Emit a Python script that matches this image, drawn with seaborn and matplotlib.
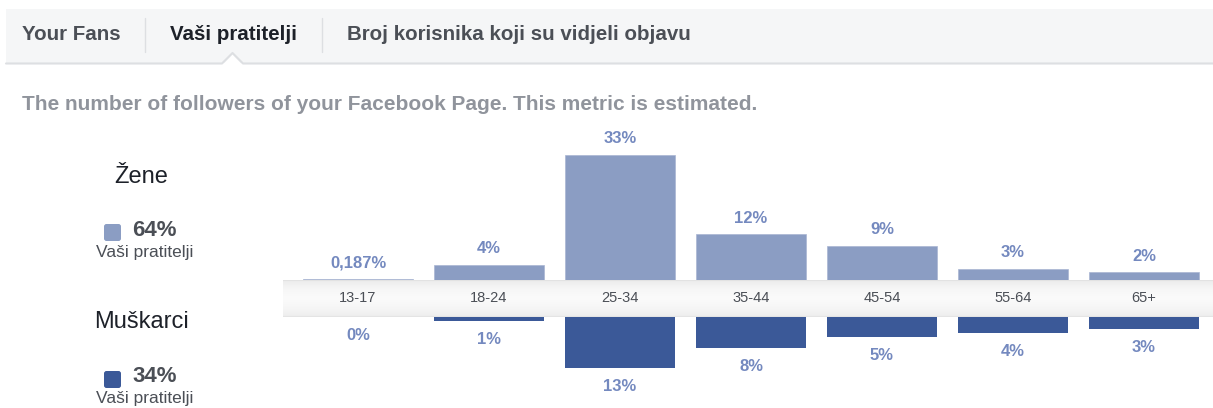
import numpy as np
import matplotlib.pyplot as plt
import seaborn as sns
from matplotlib.patches import Rectangle, Polygon, FancyBboxPatch
from matplotlib.colors import LinearSegmentedColormap

# data
ages = ["13-17", "18-24", "25-34", "35-44", "45-54", "55-64", "65+"]
women = [0.187, 4, 33, 12, 9, 3, 2]
men = [0, 1, 13, 8, 5, 4, 3]
women_total = 64
men_total = 34
tabs = ["Your Fans", "Vaši pratitelji", "Broj korisnika koji su vidjeli objavu"]
subtitle = "The number of followers of your Facebook Page. This metric is estimated."

c_women = "#8b9dc3"
c_men = "#3b5998"
c_label = "#7489bf"
c_dark = "#4b4f56"

sns.set_theme(style="white")
plt.rcParams["font.family"] = ["Liberation Sans", "DejaVu Sans"]

W, H = 1213, 408
fig = plt.figure(figsize=(W / 100, H / 100), dpi=100)

# background axes in pixel coordinates for the page chrome
bg = fig.add_axes([0, 0, 1, 1])
bg.set_xlim(0, W)
bg.set_ylim(H, 0)
bg.axis("off")

bg.add_patch(Rectangle((6, 9), W - 6, 54, fc="#f5f6f7", ec="none"))
bg.plot([6, 222, 232.5, 243, W], [63.5, 63.5, 53, 63.5, 63.5], color="#dddfe2", lw=1.5)
bg.add_patch(Polygon([[223, 64.5], [232.5, 54.5], [242, 64.5]], fc="white", ec="none"))
for xs in (145, 322):
    bg.plot([xs, xs], [18, 52], color="#dddfe2", lw=1)

tab_x = [22, 170, 347]
for i, t in enumerate(tabs):
    bg.text(tab_x[i], 35, t, fontsize=14.8, fontweight="bold",
            color="#1d2129" if i == 1 else c_dark, va="center", ha="left")

bg.text(22, 104, subtitle, fontsize=15, fontweight="bold", color="#90949c",
        va="center", ha="left")

# left legend
legend = [("Žene", women_total, c_women, 177, 233), ("Muškarci", men_total, c_men, 322, 380)]
for name, total, col, y_name, y_sq in legend:
    bg.text(141, y_name, name, fontsize=17, color="#1d2129", ha="center", va="center")
    bg.add_patch(FancyBboxPatch((104, y_sq - 9), 17, 17,
                                boxstyle="round,pad=0,rounding_size=2.5", fc=col, ec="none"))
    bg.text(132, y_sq - 3, f"{total}%", fontsize=16, fontweight="bold", color=c_dark,
            ha="left", va="center")
    bg.text(145, y_sq + 19, "Vaši pratitelji", fontsize=12.5, color=c_dark,
            ha="center", va="center")

# chart axes
x0, x1 = 283, W
xlim = (-0.573, 6.527)


def frac(top, bottom):
    return [x0 / W, 1 - bottom / H, (x1 - x0) / W, (bottom - top) / H]


ax_top = fig.add_axes(frac(110, 280))
ax_band = fig.add_axes(frac(280, 317))
ax_bot = fig.add_axes(frac(317, 408))

sns.barplot(x=ages, y=women, ax=ax_top, color=c_women, saturation=1, width=0.84,
            edgecolor="#a9b6d3", linewidth=0.5)
sns.barplot(x=ages, y=men, ax=ax_bot, color=c_men, saturation=1, width=0.84, linewidth=0)

ax_top.set_ylim(0, 170 / 3.8)
ax_bot.set_ylim(91 / 3.9, 0)


def fmt(v):
    return f"{v:g}%".replace(".", ",")


# value labels, women above their bars, men below theirs
for ax, vals, dy, va in ((ax_top, women, 6, "bottom"), (ax_bot, men, -8, "top")):
    for rect, v in zip(ax.containers[0], vals):
        ax.annotate(fmt(v), (rect.get_x() + rect.get_width() / 2, v),
                    xytext=(0, dy), textcoords="offset points", ha="center", va=va,
                    color=c_label, fontsize=12, fontweight="bold", annotation_clip=False)

# band with age groups
grad = np.linspace(0, 1, 50).reshape(-1, 1)
cmap = LinearSegmentedColormap.from_list("band", ["#ececec", "#f7f7f7", "#fbfbfb", "#f6f6f6", "#eeeeee"])
ax_band.imshow(grad, extent=[xlim[0], xlim[1], 1, 0], aspect="auto", cmap=cmap)
ax_band.set_ylim(1, 0)
ax_band.axhline(0, color="#e2e2e2", lw=1.5)
ax_band.axhline(1, color="#e4e4e4", lw=1.5)
for i, a in enumerate(ages):
    ax_band.text(i, 0.5, a, ha="center", va="center", fontsize=10.5, color=c_dark)

for ax in (ax_top, ax_band, ax_bot):
    ax.set_xlim(*xlim)
    ax.set_xticks([])
    ax.set_yticks([])
    ax.set_xlabel("")
    ax.set_ylabel("")
    ax.patch.set_alpha(0)
    for s in ax.spines.values():
        s.set_visible(False)

fig.savefig("out.png", dpi=100)
